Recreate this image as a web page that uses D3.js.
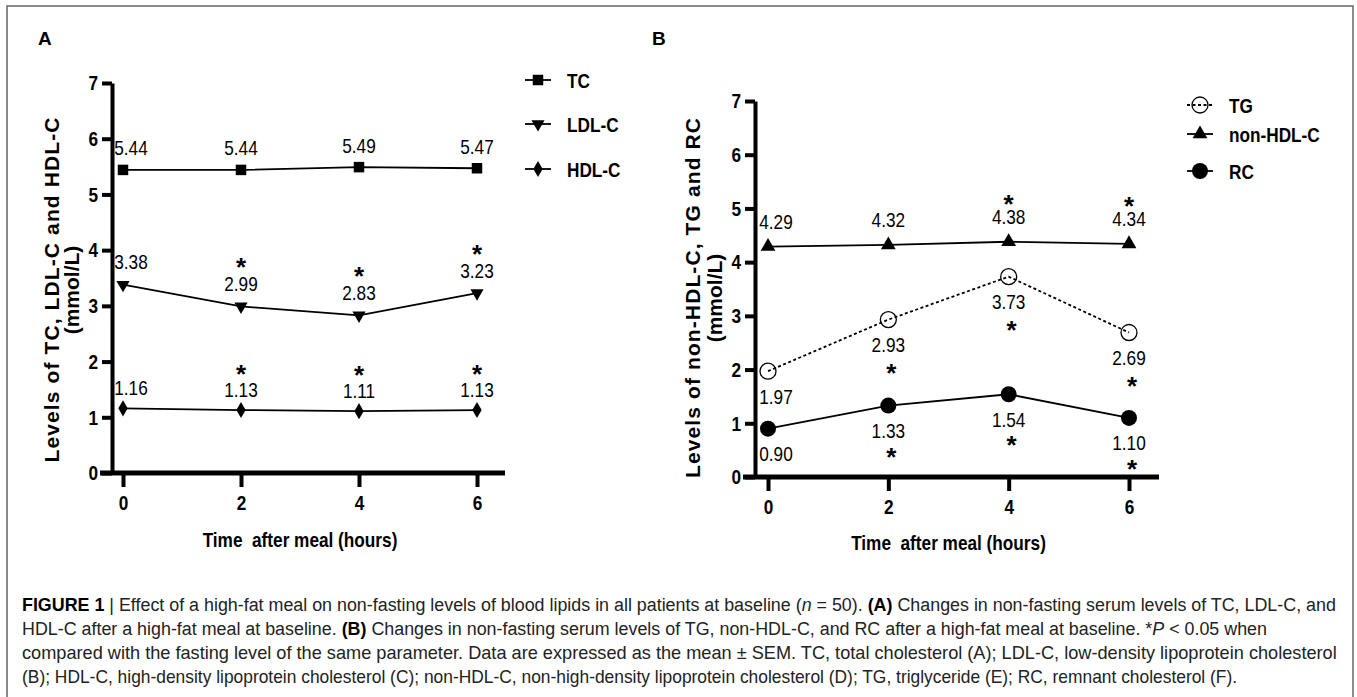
<!DOCTYPE html>
<html>
<head>
<meta charset="utf-8">
<script src="https://cdn.jsdelivr.net/npm/d3@7"></script>
<style>
  html, body { margin: 0; padding: 0; background: #fff; }
  svg { display: block; }
</style>
</head>
<body>
<svg id="chart" width="1357" height="697"></svg>
<script>
// ---------- DATA ----------
const hours = [0, 2, 4, 6];
const yTicks = [0, 1, 2, 3, 4, 5, 6, 7];

const tc     = [5.44, 5.44, 5.49, 5.47];
const ldl    = [3.38, 2.99, 2.83, 3.23];
const hdl    = [1.16, 1.13, 1.11, 1.13];
const nonhdl = [4.29, 4.32, 4.38, 4.34];
const tg     = [1.97, 2.93, 3.73, 2.69];
const rc     = [0.90, 1.33, 1.54, 1.10];

const tcSig     = [0, 0, 0, 0];
const ldlSig    = [0, 1, 1, 1];
const hdlSig    = [0, 1, 1, 1];
const nonhdlSig = [0, 0, 1, 1];
const tgSig     = [0, 1, 1, 1];
const rcSig     = [0, 1, 1, 1];

const legendA = ["TC", "LDL-C", "HDL-C"];
const legendB = ["TG", "non-HDL-C", "RC"];

const xTitle = "Time\u00A0\u00A0after meal (hours)";
const yTitleA = ["Levels of TC, LDL-C and HDL-C", "(mmol/L)"];
const yTitleB = ["Levels of non-HDL-C, TG and RC", "(mmol/L)"];

// ---------- SETUP ----------
const FONT = "'Liberation Sans', Arial, sans-serif";
const SX = 0.82; // condensed look (Arial Narrow)
const svg = d3.select("#chart");

// outer border
svg.append("rect").attr("x", 7).attr("y", 6).attr("width", 1346).attr("height", 720)
  .attr("fill", "none").attr("stroke", "#666").attr("stroke-width", 1.5);

function narrow(g, x, y, str, size, bold, anchor) {
  return g.append("text").attr("transform", `translate(${x},${y}) scale(${SX},1)`)
    .attr("text-anchor", anchor || "middle").attr("font-family", FONT)
    .attr("font-weight", bold ? "bold" : "normal").attr("font-size", size).attr("fill", "#000")
    .text(str);
}

function drawPanel(cfg) {
  const g = svg.append("g");
  const x = d3.scaleLinear().domain([0, 6]).range(cfg.xRange);
  const y = d3.scaleLinear().domain([0, 7]).range(cfg.yRange);

  // y axis
  const ya = g.append("g").attr("transform", `translate(${cfg.axisX},0)`)
    .call(d3.axisLeft(y).tickValues(yTicks).tickSize(10).tickSizeOuter(0).tickPadding(4).tickFormat(d3.format("d")));
  ya.select(".domain").attr("stroke-width", 4).attr("stroke", "#000");
  ya.selectAll(".tick line").attr("stroke-width", 4).attr("stroke", "#000");
  ya.selectAll(".tick text").attr("font-family", FONT).attr("font-weight", "bold")
    .attr("font-size", 21).attr("fill", "#000")
    .attr("x", -14 / SX).attr("transform", `scale(${SX},1)`);

  // x axis
  const xa = g.append("g").attr("transform", `translate(0,${y(0)})`)
    .call(d3.axisBottom(x).tickValues(hours).tickSize(14).tickSizeOuter(0).tickPadding(8).tickFormat(d3.format("d")));
  xa.select(".domain").attr("d", `M${cfg.axisX - 12},0H${x(6) + cfg.xExtra}`)
    .attr("stroke-width", 5).attr("stroke", "#000");
  xa.selectAll(".tick line").attr("stroke-width", 4).attr("stroke", "#000");
  xa.selectAll(".tick text").attr("font-family", FONT).attr("font-weight", "bold")
    .attr("font-size", 21).attr("fill", "#000").attr("transform", `scale(${SX},1)`);

  // x title
  narrow(g, (x(0) + x(6)) / 2, cfg.xTitleY, xTitle, 21, true);

  // y title
  cfg.yTitle.forEach((t, i) => {
    const el = g.append("text").attr("transform", `translate(${cfg.yTitleX[i]},${cfg.yTitleCY}) rotate(-90)`)
      .attr("text-anchor", "middle").attr("dominant-baseline", "central")
      .attr("font-family", FONT).attr("font-weight", "bold").attr("font-size", 21).text(t);
    if (i === 0) el.attr("textLength", cfg.yTitleLen).attr("lengthAdjust", "spacing");
  });

  // panel letter
  g.append("text").attr("x", cfg.letterX).attr("y", 45).attr("font-family", FONT)
    .attr("font-weight", "bold").attr("font-size", 19).text(cfg.letter);

  // series
  cfg.series.forEach(s => {
    const line = d3.line().x((d, i) => x(hours[i])).y(d => y(d));
    g.append("path").datum(s.values).attr("d", line).attr("fill", "none")
      .attr("stroke", "#000").attr("stroke-width", 1.8)
      .attr("stroke-dasharray", s.dashed ? "3,2.5" : null);
    s.values.forEach((v, i) => {
      drawMarker(g, s.marker, x(hours[i]), y(v));
      const dx = i === 0 ? 8 : 0;
      const dir = s.below ? 1 : -1;
      const ly = y(v) + dir * s.labOff;
      narrow(g, x(hours[i]) + dx, ly + 7.5, d3.format(".2f")(v), 21, false);
      if (s.sig[i]) {
        const sy = y(v) + dir * s.starOff;
        g.append("text").attr("x", x(hours[i]) + (s.below ? 3 : 0)).attr("y", sy + 14)
          .attr("text-anchor", "middle").attr("font-family", FONT).attr("font-weight", "bold")
          .attr("font-size", 26).text("*");
      }
    });
  });

  // legend
  cfg.legend.forEach((name, i) => {
    const ly = cfg.legendY[i];
    const s = cfg.series.find(q => q.name === name);
    g.append("line").attr("x1", cfg.legendX - 13).attr("x2", cfg.legendX + 13)
      .attr("y1", ly).attr("y2", ly).attr("stroke", "#000").attr("stroke-width", 1.8)
      .attr("stroke-dasharray", s.dashed ? "3,2.5" : null);
    drawMarker(g, s.marker, cfg.legendX, ly);
    narrow(g, cfg.legendX + 29, ly + 7.5, name, 21, true, "start");
  });
}

function drawMarker(g, type, cx, cy) {
  if (type === "square") {
    g.append("path").attr("d", d3.symbol(d3.symbolSquare, 110)()).attr("transform", `translate(${cx},${cy})`).attr("fill", "#000");
  } else if (type === "tridown") {
    g.append("path").attr("d", d3.symbol(d3.symbolTriangle, 75)()).attr("transform", `translate(${cx},${cy}) rotate(180)`).attr("fill", "#000");
  } else if (type === "triup") {
    g.append("path").attr("d", d3.symbol(d3.symbolTriangle, 95)()).attr("transform", `translate(${cx},${cy})`).attr("fill", "#000");
  } else if (type === "diamond") {
    g.append("path").attr("d", d3.symbol(d3.symbolDiamond, 75)()).attr("transform", `translate(${cx},${cy})`).attr("fill", "#000");
  } else if (type === "circle") {
    g.append("circle").attr("cx", cx).attr("cy", cy).attr("r", 8).attr("fill", "#000");
  } else if (type === "opencircle") {
    g.append("circle").attr("cx", cx).attr("cy", cy).attr("r", 8).attr("fill", "none")
      .attr("stroke", "#000").attr("stroke-width", 1.3);
  }
}

drawPanel({
  letter: "A", letterX: 38,
  xRange: [123, 477], yRange: [473, 83], axisX: 112, xExtra: 28,
  xTitleY: 547,
  yTitle: yTitleA, yTitleX: [51, 71], yTitleCY: 290, yTitleLen: 345,
  legend: legendA, legendX: 538, legendY: [80, 124, 169],
  series: [
    { name: "TC", values: tc, sig: tcSig, marker: "square", labOff: 22, starOff: 42 },
    { name: "LDL-C", values: ldl, sig: ldlSig, marker: "tridown", labOff: 23, starOff: 44 },
    { name: "HDL-C", values: hdl, sig: hdlSig, marker: "diamond", labOff: 21, starOff: 41 }
  ]
});

drawPanel({
  letter: "B", letterX: 652,
  xRange: [768, 1129], yRange: [477, 101], axisX: 755, xExtra: 30,
  xTitleY: 550,
  yTitle: yTitleB, yTitleX: [692, 714], yTitleCY: 298, yTitleLen: 360,
  legend: legendB, legendX: 1200, legendY: [105, 134, 171],
  series: [
    { name: "TG", values: tg, sig: tgSig, marker: "opencircle", dashed: true, below: true, labOff: 25, starOff: 48 },
    { name: "non-HDL-C", values: nonhdl, sig: nonhdlSig, marker: "triup", labOff: 25, starOff: 43 },
    { name: "RC", values: rc, sig: rcSig, marker: "circle", below: true, labOff: 25, starOff: 46 }
  ]
});

// ---------- CAPTION ----------
const capLines = [
  [["b", "FIGURE 1"], ["r", " | Effect of a high-fat meal on non-fasting levels of blood lipids in all patients at baseline ("], ["i", "n"], ["r", " = 50). "], ["b", "(A)"], ["r", " Changes in non-fasting serum levels of TC, LDL-C, and"]],
  [["r", "HDL-C after a high-fat meal at baseline. "], ["b", "(B)"], ["r", " Changes in non-fasting serum levels of TG, non-HDL-C, and RC after a high-fat meal at baseline. *"], ["i", "P"], ["r", " < 0.05 when"]],
  [["r", "compared with the fasting level of the same parameter. Data are expressed as the mean \u00B1 SEM. TC, total cholesterol (A); LDL-C, low-density lipoprotein cholesterol"]],
  [["r", "(B); HDL-C, high-density lipoprotein cholesterol (C); non-HDL-C, non-high-density lipoprotein cholesterol (D); TG, triglyceride (E); RC, remnant cholesterol (F)."]]
];
const capLens = [1315, 1246, 1315, 1216];
const capY = [611, 635, 659, 683];
capLines.forEach((parts, i) => {
  const t = svg.append("text").attr("x", 0).attr("y", 0)
    .attr("font-family", FONT).attr("font-size", 18).attr("fill", "#222");
  parts.forEach(([k, s]) => {
    const ts = t.append("tspan").text(s);
    if (k === "b") ts.attr("font-weight", "bold").attr("fill", "#000");
    if (k === "i") ts.attr("font-style", "italic");
  });
  const w = t.node().getComputedTextLength();
  const k = capLens[i] / w;
  t.attr("transform", `translate(22,${capY[i]}) scale(${k},1)`);
});
</script>
</body>
</html>
